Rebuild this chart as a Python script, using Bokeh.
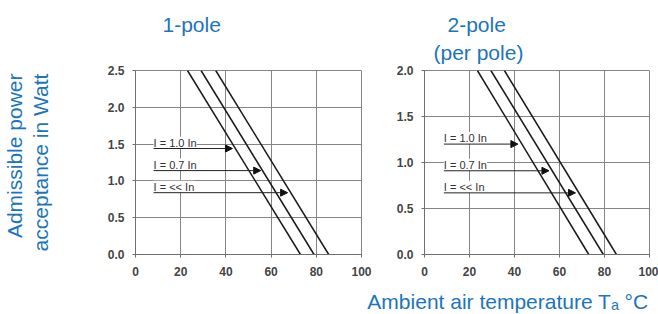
from bokeh.plotting import figure
from bokeh.models import (Range1d, FixedTicker, PrintfTickFormatter, LabelSet, Label, Title,
                          Arrow, NormalHead, ColumnDataSource)
from bokeh.core.properties import value
from bokeh.layouts import row, column
from bokeh.embed import file_html
from bokeh.resources import INLINE

# ---------------- data ----------------
temp_ticks = [0, 20, 40, 60, 80, 100]
p1_ticks = [0.0, 0.5, 1.0, 1.5, 2.0, 2.5]
p2_ticks = [0.0, 0.5, 1.0, 1.5, 2.0]

series_names = ["I = 1.0 In", "I = 0.7 In", "I = << In"]

# 1-pole: admissible power (W) vs ambient temperature (deg C)
p1_temp = [[23.0, 73.0], [29.0, 79.0], [35.5, 85.5]]
p1_power = [[2.5, 0.0], [2.5, 0.0], [2.5, 0.0]]
# 2-pole (per pole)
p2_temp = [[23.5, 73.0], [29.5, 79.5], [35.5, 85.3]]
p2_power = [[2.0, 0.0], [2.0, 0.0], [2.0, 0.0]]

# arrows with series labels
p1_arrow_y = [1.44, 1.14, 0.84]
p1_arrow_x0 = [8.0, 8.0, 8.0]
p1_arrow_x1 = [42.9, 55.4, 67.3]
p2_arrow_y = [1.20, 0.91, 0.67]
p2_arrow_x0 = [8.6, 8.6, 8.6]
p2_arrow_x1 = [41.5, 55.3, 67.1]

BLUE = "#1b75bc"
GRID = "#858585"
FONT = "Liberation Sans"
PLOT_H = 285


def make_fig(width, left, right, ymax, yticks, temps, powers, ax0, ax1, ay):
    p = figure(width=width, height=PLOT_H, output_backend="svg", toolbar_location=None,
               x_range=Range1d(0, 100), y_range=Range1d(0, ymax),
               min_border_left=left, min_border_right=right,
               min_border_top=70, min_border_bottom=PLOT_H - 254)
    p.background_fill_color = "white"
    p.border_fill_color = "white"
    p.outline_line_color = GRID
    p.outline_line_width = 1
    for ax in (p.xaxis[0], p.yaxis[0]):
        ax.axis_line_color = "#6e6e6e"
        ax.major_tick_line_color = "#6e6e6e"
        ax.major_tick_in = 0
        ax.major_tick_out = 3
        ax.minor_tick_line_color = None
        ax.major_label_text_font = FONT
        ax.major_label_text_font_size = "12px"
        ax.major_label_text_font_style = "bold"
        ax.major_label_text_color = "#444444"
        ax.axis_label_text_font = FONT
        ax.axis_label_text_font_size = "21px"
        ax.axis_label_text_font_style = "normal"
        ax.axis_label_text_color = BLUE
    p.xaxis[0].ticker = FixedTicker(ticks=temp_ticks)
    p.yaxis[0].ticker = FixedTicker(ticks=yticks)
    p.yaxis[0].formatter = PrintfTickFormatter(format="%.1f")
    p.xaxis[0].major_label_standoff = 9
    p.yaxis[0].major_label_standoff = 8
    p.xgrid[0].ticker = FixedTicker(ticks=temp_ticks)
    p.ygrid[0].ticker = FixedTicker(ticks=yticks)
    p.grid.grid_line_color = GRID
    p.grid.grid_line_width = 1

    for t, w in zip(temps, powers):
        p.line(t, w, line_color="#1a1a1a", line_width=1.5)

    src = ColumnDataSource(dict(x0=ax0, x1=ax1, y=ay, name=series_names))
    labels = LabelSet(x="x0", y="y", text="name", source=src, y_offset=2,
                      text_baseline="alphabetic", text_align="left",
                      text_font=value(FONT), text_font_size="11px", text_color="#333333",
                      background_fill_color="white")
    p.add_layout(labels)
    arrows = Arrow(x_start="x0", y_start="y", x_end="x1", y_end="y", source=src,
                   line_color="#222222", line_width=1,
                   end=NormalHead(size=7, fill_color="#111111", line_color="#111111"))
    p.add_layout(arrows)
    return p


p1 = make_fig(381, 135, 20, 2.5, p1_ticks, p1_temp, p1_power, p1_arrow_x0, p1_arrow_x1, p1_arrow_y)
p2 = make_fig(277, 43, 9, 2.0, p2_ticks, p2_temp, p2_power, p2_arrow_x0, p2_arrow_x1, p2_arrow_y)


def title(p, s, side, align, offset, standoff, size="21px", color=BLUE, valign="bottom"):
    p.add_layout(Title(text=s, align=align, offset=offset, standoff=standoff,
                       vertical_align=valign,
                       text_font=FONT, text_font_size=size, text_color=color,
                       text_font_style="normal"), side)


# titles above the panels (first added sits nearest the frame)
title(p1, " ", "above", "left", 27, 10)         # blank spacer row
title(p1, "1-pole", "above", "left", 27, 0)
title(p2, "(per pole)", "above", "left", 9, 10, valign="top")
title(p2, "2-pole", "above", "left", 23, 0)

# y-axis label, two lines
p1.yaxis[0].axis_label = "acceptance in Watt"
p1.yaxis[0].axis_label_standoff = 53
title(p1, "Admissible power", "left", "right", 3, 0)

# x-axis label on a full-width strip below both panels
p3 = figure(width=658, height=314 - PLOT_H, output_backend="svg", toolbar_location=None,
            x_range=Range1d(0, 658), y_range=Range1d(0, 314 - PLOT_H),
            x_axis_type=None, y_axis_type=None,
            min_border=0, min_border_left=0, min_border_right=0,
            min_border_top=0, min_border_bottom=0)
p3.grid.visible = False
p3.outline_line_color = None
p3.background_fill_color = "white"
p3.border_fill_color = "white"
p3.add_layout(Label(x=648, y=13, x_units="screen", y_units="screen",
                    text="Ambient air temperature Tₐ °C", text_align="right",
                    text_baseline="alphabetic", text_font=FONT, text_font_size="21px",
                    text_color=BLUE))

layout = column(row(p1, p2), p3)
open("out.html", "w").write(file_html(layout, INLINE))
